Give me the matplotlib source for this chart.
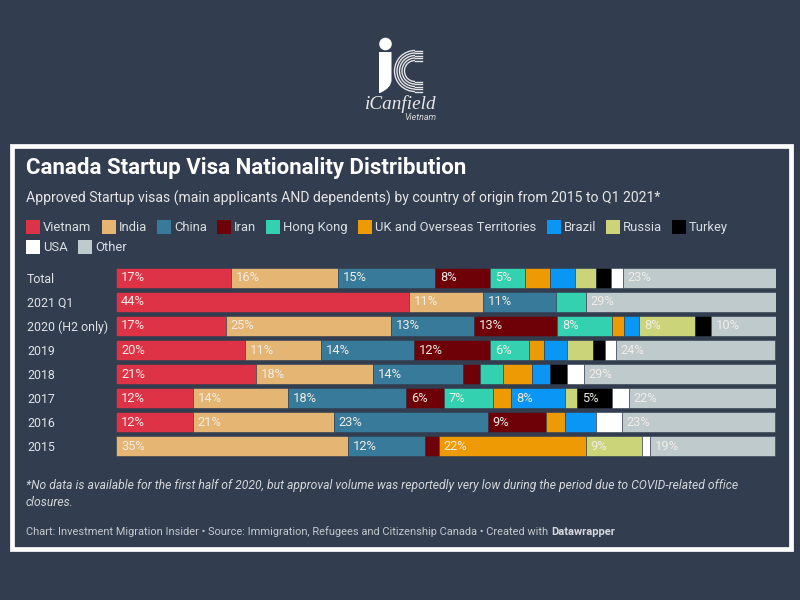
import matplotlib
matplotlib.use("Agg")
import matplotlib.pyplot as plt
from matplotlib.patches import Arc, Circle, PathPatch, Rectangle
from matplotlib.path import Path

plt.rcParams['font.family'] = ['Roboto', 'DejaVu Sans']

BG = '#323d4f'
W, H = 800, 600

ROWS = ['Total', '2021 Q1', '2020 (H2 only)', '2019', '2018', '2017', '2016', '2015']
COUNTRIES = ['Vietnam', 'India', 'China', 'Iran', 'Hong Kong', 'UK and Overseas Territories',
             'Brazil', 'Russia', 'Turkey', 'USA', 'Other']
COLORS = ['#de3347', '#e5b574', '#387a99', '#6e0008', '#33d1b0', '#ee9a05',
          '#0a96f5', '#ccd47a', '#000000', '#ffffff', '#bfcacd']

# one list per country, same order as ROWS
VIETNAM = [17.4, 44.4, 16.6, 19.6, 21.2, 11.7, 11.6, 0]
INDIA = [16.2, 11.2, 25.1, 11.4, 17.7, 14.4, 21.4, 35.1]
CHINA = [14.8, 11.1, 12.5, 14.1, 13.7, 17.8, 23.3, 11.7]
IRAN = [8.3, 0, 12.6, 11.6, 2.6, 5.8, 8.8, 2.1]
HONG_KONG = [5.2, 4.5, 8.4, 5.9, 3.5, 7.4, 0, 0]
UK = [3.8, 0, 1.7, 2.2, 4.4, 2.8, 2.9, 22.3]
BRAZIL = [3.8, 0, 2.4, 3.6, 2.6, 8.2, 4.8, 0]
RUSSIA = [3.3, 0, 8.4, 3.9, 0, 1.8, 0, 8.5]
TURKEY = [2.2, 0, 2.5, 1.8, 2.6, 5.2, 0, 0]
USA = [1.8, 0, 0, 1.6, 2.6, 2.6, 3.8, 1.2]
OTHER = [23.2, 28.8, 9.9, 24.2, 29.1, 22.3, 23.3, 19.0]
SERIES = [VIETNAM, INDIA, CHINA, IRAN, HONG_KONG, UK, BRAZIL, RUSSIA, TURKEY, USA, OTHER]

# legend layout in pixels: (left of swatch, top of swatch)
LEGEND_POS = [(26, 220), (102, 220), (157, 220), (217, 220), (266, 220), (358, 220),
              (547, 220), (606, 220), (672, 220), (26, 240), (78, 240)]

fig = plt.figure(figsize=(W / 100, H / 100), dpi=100, facecolor=BG)

# background layer uses pixel coordinates, y pointing down
bg = fig.add_axes([0, 0, 1, 1])
bg.set_xlim(0, W)
bg.set_ylim(H, 0)
bg.axis('off')

# white frame
bg.add_patch(Rectangle((12, 145.5), 779, 403, fill=False, edgecolor='white', linewidth=3.4))

# logo
bg.add_patch(Circle((385.5, 44), 6.3, color='white', lw=0))
stem = Path([(379, 52), (391.5, 52), (391.5, 80), (391.5, 88), (380, 93), (379, 93), (379, 52)],
            [Path.MOVETO, Path.LINETO, Path.LINETO, Path.CURVE3, Path.CURVE3, Path.LINETO, Path.CLOSEPOLY])
bg.add_patch(PathPatch(stem, facecolor='white', edgecolor='none'))
for r in [10.5, 13, 15.5, 18, 20.5]:
    bg.add_patch(Arc((415, 71), 2 * r, 2 * r, theta1=90, theta2=270, edgecolor='#e4e4e4', linewidth=1.0))
    bg.plot([415, 421.5], [71 - r, 71 - r], color='#e4e4e4', lw=1.0)
    bg.plot([415, 421.5], [71 + r, 71 + r], color='#e4e4e4', lw=1.0)
bg.text(401, 104.5, 'iCanfield', family='Liberation Serif', style='italic', fontsize=13.8,
        color='#e8e8e8', ha='center', va='center')
bg.text(420.5, 118, 'Vietnam', style='italic', fontsize=6.4, color='#d8d8d8', ha='center', va='center')

# header
bg.text(26, 168, 'Canada Startup Visa Nationality Distribution', fontsize=16, fontweight='bold',
        color='white', va='center')
bg.text(26, 198.5, 'Approved Startup visas (main applicants AND dependents) by country of origin from 2015 to Q1 2021*',
        fontsize=10.08, color='#e6e6e6', va='center')

# legend
for name, color, (x, y) in zip(COUNTRIES, COLORS, LEGEND_POS):
    bg.add_patch(Rectangle((x, y), 14, 14, facecolor=color, edgecolor='none'))
    bg.text(x + 17, y + 7.5, name, fontsize=9.35, color='#d9dee3', va='center')

# footer
bg.text(26, 485, '*No data is available for the first half of 2020, but approval volume was reportedly very low during the period due to COVID-related office',
        fontsize=8.72, style='italic', color='#d5d8dc', va='center')
bg.text(26, 503, 'closures.', fontsize=8.72, style='italic', color='#d5d8dc', va='center')
bg.text(26, 532, 'Chart: Investment Migration Insider \u2022 Source: Immigration, Refugees and Citizenship Canada \u2022 Created with',
        fontsize=7.93, color='#c3c8ce', va='center')
bg.text(551, 532, 'Datawrapper', fontsize=8, fontweight='bold', color='#d5d8dc', va='center')

# stacked bars, 660 px wide for 100%
pitch = 24.1
top = 277.7 - pitch / 2
ax = fig.add_axes([116 / W, 1 - (top + pitch * len(ROWS)) / H, 660 / W, pitch * len(ROWS) / H])
ax.patch.set_alpha(0)
ax.set_xlim(0, 100)
ax.set_ylim(len(ROWS) - 0.5, -0.5)
for side in ax.spines.values():
    side.set_visible(False)
ax.set_xticks([])
ax.set_yticks(range(len(ROWS)))
ax.set_yticklabels(ROWS, ha='left', fontsize=8.9, color='#dfe3e6')
ax.tick_params(axis='y', length=0, pad=64)

left = [0.0] * len(ROWS)
for values, color in zip(SERIES, COLORS):
    ax.barh(range(len(ROWS)), values, left=left, height=0.83, color=color, edgecolor=BG, linewidth=0.4)
    for i, v in enumerate(values):
        if v >= 5:
            ax.text(left[i] + 0.75, i, '%d%%' % int(v + 0.5), fontsize=9.3, color='#f0ece6', va='center')
    left = [a + b for a, b in zip(left, values)]

fig.savefig('out.png', dpi=100, facecolor=BG)
